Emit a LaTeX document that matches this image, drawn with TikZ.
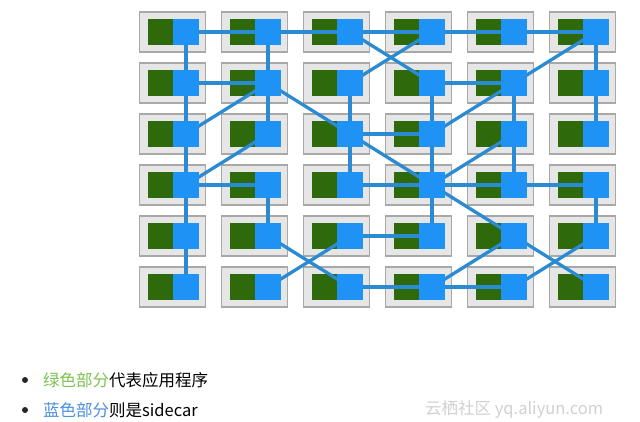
\documentclass[tikz,border=0pt]{standalone}
\usepackage{fontspec}
\newfontfamily\cjk{Noto Sans CJK SC}
\definecolor{boxfill}{HTML}{E6E6E6}
\definecolor{boxline}{HTML}{A8A8A8}
\definecolor{appgreen}{HTML}{2E6A0C}
\definecolor{carblue}{HTML}{1F93F5}
\definecolor{linkblue}{HTML}{2A8AD2}
\definecolor{txtgreen}{HTML}{7DC24F}
\definecolor{txtblue}{HTML}{4A8FE0}
\pgfdeclarelayer{bg}
\pgfdeclarelayer{mid}
\pgfsetlayers{bg,mid,main}
\tikzset{
  podbox/.style={draw=boxline, line width=1.2pt, fill=boxfill, minimum width=66pt, minimum height=40pt, inner sep=0pt},
  appbox/.style={fill=appgreen, minimum width=25pt, minimum height=26pt, inner sep=0pt},
  carbox/.style={fill=carblue, minimum width=26pt, minimum height=26pt, inner sep=0pt},
  link/.style={draw=linkblue, line width=3.3pt},
  bulletdot/.style={circle, fill=black!85, minimum size=6pt, inner sep=0pt},
  txt/.style={font=\cjk\fontsize{16.5}{20}\selectfont, anchor=west, inner sep=0pt}
}
\begin{document}
\begin{tikzpicture}[x=1pt,y=-1pt]
\useasboundingbox (0,0) rectangle (640,422);
\begin{pgfonlayer}{bg}
\fill[white] (0,0) rectangle (640,422);
\end{pgfonlayer}
\foreach \c in {1,...,6}{
  \foreach \r in {1,...,6}{
    \pgfmathsetmacro{\bx}{186+82*(\c-1)}
    \pgfmathsetmacro{\by}{32+51*(\r-1)}
    \begin{pgfonlayer}{bg}
      \node[podbox] (p-\c-\r) at (\bx-13.5,\by) {};
      \node[appbox] (g-\c-\r) at (\bx-25.5,\by) {};
    \end{pgfonlayer}
    \node[carbox] (b-\c-\r) at (\bx,\by) {};
  }
}
\begin{pgfonlayer}{mid}
\foreach \a/\b in {
  1-1/2-1, 2-1/3-1, 3-1/4-1, 4-1/5-1, 5-1/6-1,
  1-1/1-2, 2-1/2-2, 6-1/6-2,
  3-1/4-2, 3-2/4-1, 5-2/6-1,
  1-2/2-2, 4-2/5-2,
  1-2/1-3, 2-2/2-3, 3-2/3-3, 4-2/4-3, 5-2/5-3, 6-2/6-3,
  2-2/1-3, 2-2/3-3, 5-2/4-3,
  3-3/4-3,
  1-3/1-4, 3-3/3-4, 4-3/4-4, 5-3/5-4,
  2-3/1-4, 3-3/4-4, 5-3/4-4,
  1-4/2-4, 3-4/4-4, 4-4/5-4, 5-4/6-4,
  1-4/1-5, 2-4/2-5, 4-4/4-5, 6-4/6-5,
  4-4/5-5,
  3-5/4-5,
  1-5/1-6,
  2-5/3-6, 2-6/3-5, 5-5/6-6, 6-5/5-6, 5-5/4-6,
  3-6/4-6, 4-6/5-6}{
  \draw[link] (b-\a.center) -- (b-\b.center);
}
\end{pgfonlayer}
\node[bulletdot] (d1) at (25,380) {};
\node[bulletdot] (d2) at (25,410) {};
\node[txt] (t1) at (43,380) {\textcolor{txtgreen}{绿色部分}代表应用程序};
\node[txt] (t2) at (43,410) {\textcolor{txtblue}{蓝色部分}则是sidecar};
\node[txt, text=black!18] (wm) at (425,409) {云栖社区 yq.aliyun.com};
\end{tikzpicture}
\end{document}
